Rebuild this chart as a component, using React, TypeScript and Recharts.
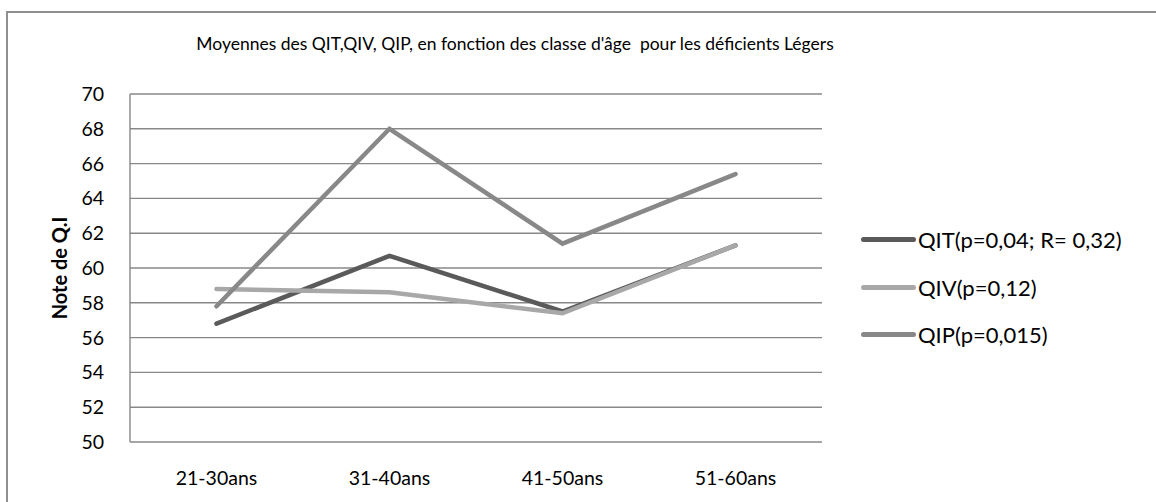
import { LineChart, Line, XAxis, YAxis, CartesianGrid, Label } from "recharts";

const categories = ["21-30ans", "31-40ans", "41-50ans", "51-60ans"];
const qit = [56.8, 60.7, 57.5, 61.3];
const qiv = [58.8, 58.6, 57.4, 61.3];
const qip = [57.8, 68.0, 61.4, 65.4];
const yTicks = [50, 52, 54, 56, 58, 60, 62, 64, 66, 68, 70];

const series = [
  { key: "qit", name: "QIT(p=0,04; R= 0,32)", color: "#5a5a5a" },
  { key: "qiv", name: "QIV(p=0,12)", color: "#a8a8a8" },
  { key: "qip", name: "QIP(p=0,015)", color: "#888888" },
];

const data = categories.map((c, i) => ({ name: c, qit: qit[i], qiv: qiv[i], qip: qip[i] }));

const FONT = "Lato, 'Open Sans', sans-serif";

export default function App() {
  return (
    <div style={{ position: "absolute", left: 0, top: 0, width: 1156, height: 502, background: "#fff", overflow: "hidden" }}>
      <div style={{ position: "absolute", left: 6, top: 11, width: 1200, height: 520, border: "2px solid #8f8f8f" }} />
      <div style={{ position: "absolute", left: 0, top: 33, width: 1030, textAlign: "center", fontFamily: FONT, fontSize: 17.5, color: "#000" }}>
        Moyennes des QIT,QIV, QIP, en fonction des classe d'âge&nbsp; pour les déficients Légers
      </div>
      <div style={{ position: "absolute", left: 861, top: 216, fontFamily: FONT, fontSize: 22, color: "#000" }}>
        {series.map((s) => (
          <div key={s.key} style={{ display: "flex", alignItems: "center", height: 47.5 }}>
            <div style={{ width: 55, height: 5, borderRadius: 3, background: s.color, marginRight: 2 }} />
            <span>{s.name}</span>
          </div>
        ))}
      </div>
      <LineChart style={{ position: "absolute", left: 0, top: 0 }} width={1156} height={502} data={data} margin={{ top: 94, right: 334, bottom: 0, left: 70 }}>
        <CartesianGrid vertical={false} stroke="#888888" strokeWidth={1.4} />
        <XAxis
          dataKey="name"
          axisLine={false}
          tickLine={false}
          height={60}
          padding={{ left: 86.5, right: 86.5 }}
          tickMargin={23}
          tick={{ fill: "#000", fontSize: 19.5, fontFamily: FONT }}
        />
        <YAxis
          domain={[50, 70]}
          ticks={yTicks}
          width={60}
          axisLine={{ stroke: "#888888", strokeWidth: 1.4 }}
          tickLine={false}
          tickSize={0}
          tickMargin={26}
          tick={{ fill: "#000", fontSize: 19.5, fontFamily: FONT }}
        >
          <Label
            value="Note de Q.I"
            angle={-90}
            position="insideLeft"
            offset={-10}
            style={{ fontWeight: "bold", fontSize: 20, fontFamily: FONT, fill: "#000", textAnchor: "middle" }}
          />
        </YAxis>
        {series.map((s) => (
          <Line
            key={s.key}
            dataKey={s.key}
            name={s.name}
            stroke={s.color}
            strokeWidth={4.5}
            dot={false}
            activeDot={false}
            strokeLinecap="round"
            strokeLinejoin="miter"
            isAnimationActive={false}
          />
        ))}
      </LineChart>
    </div>
  );
}
